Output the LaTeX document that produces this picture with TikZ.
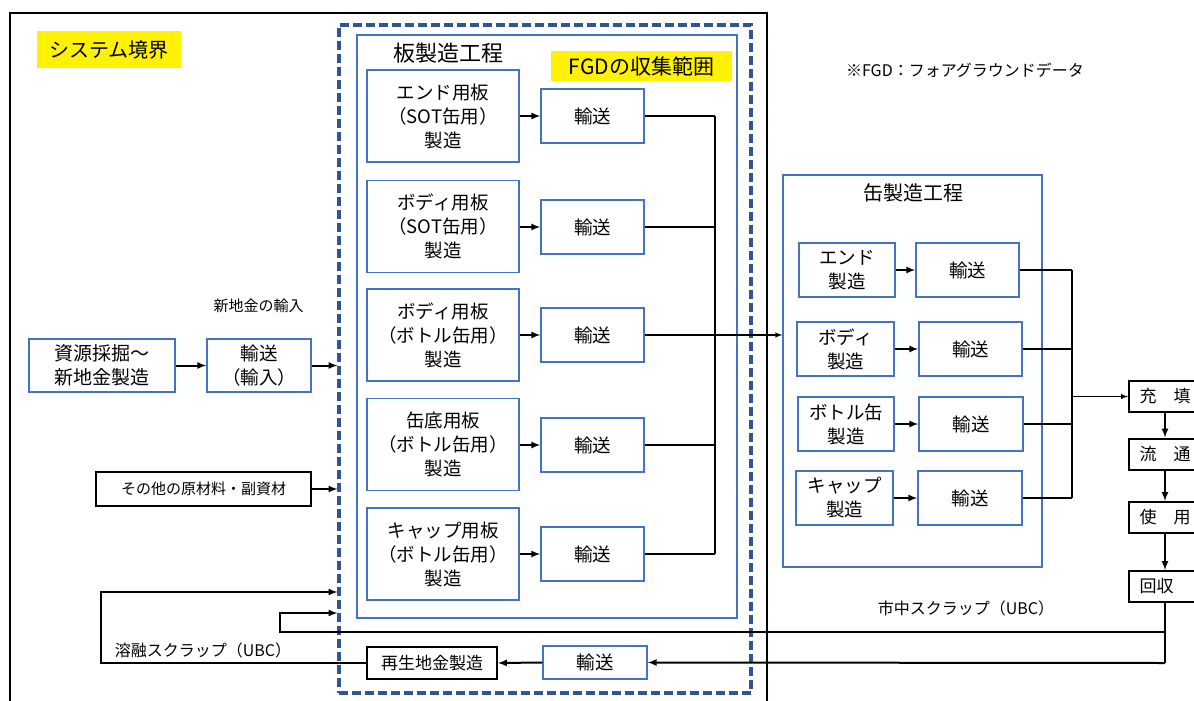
\documentclass[tikz,border=0pt]{standalone}
\usepackage{fontspec}
\setmainfont{Noto Sans CJK JP}
\usepackage{tikz}
\usetikzlibrary{arrows}
\definecolor{blu}{HTML}{4472C4}
\definecolor{dblu}{HTML}{2F5597}

\begin{document}
\begin{tikzpicture}[x=1pt,y=-1pt,>=latex,
    blbox/.style={draw=blu,line width=1.5pt,align=center,inner sep=0pt,
      font=\fontsize{18.5}{24}\selectfont},
    bkbox/.style={draw,line width=2pt,inner sep=0pt},
    hilite/.style={fill=yellow,inner sep=0pt},
    flow/.style={line width=2pt,->},
    wire/.style={line width=1.4pt}]
    \useasboundingbox (0,0) rectangle (1194,701);
    % system boundary
    \draw[line width=2.6pt] (10,720) -- (10,13) -- (767,13) -- (767,720);
    \node[hilite,minimum width=144,minimum height=37,font=\fontsize{20}{24}\selectfont] (sys) at (109,49.5) {システム境界};
    \node[draw=dblu,line width=3.2pt,dash pattern=on 9pt off 4pt,minimum width=412,minimum height=668] (fgd) at (545,359) {};
    \node at (965,70) [font=\fontsize{16}{20}\selectfont] {※FGD：フォアグラウンドデータ};

    % plate making
    \node[draw=blu,line width=1.5pt,minimum width=380,minimum height=583] (ban) at (547,326.5) {};
    \node at (448,53) [font=\fontsize{22}{26}\selectfont] {板製造工程};
    \node[hilite,minimum width=181,minimum height=30,font=\fontsize{21}{24}\selectfont] (rng) at (641.5,66) {FGDの収集範囲};
    \node[blbox,minimum width=152,minimum height=92] (p1) at (443,116) {エンド用板\\（SOT缶用）\\製造};
    \node[blbox,minimum width=152,minimum height=92] (p2) at (443,226.5) {ボディ用板\\（SOT缶用）\\製造};
    \node[blbox,minimum width=152,minimum height=92] (p3) at (443,335) {ボディ用板\\（ボトル缶用）\\製造};
    \node[blbox,minimum width=152,minimum height=92] (p4) at (443,444.5) {缶底用板\\（ボトル缶用）\\製造};
    \node[blbox,minimum width=152,minimum height=92] (p5) at (443,554) {キャップ用板\\（ボトル缶用）\\製造};
    \node[blbox,minimum width=103,minimum height=54] (pt1) at (592.5,116) {輸送};
    \node[blbox,minimum width=103,minimum height=54] (pt2) at (592.5,227) {輸送};
    \node[blbox,minimum width=103,minimum height=54] (pt3) at (592.5,335) {輸送};
    \node[blbox,minimum width=103,minimum height=54] (pt4) at (592.5,445) {輸送};
    \node[blbox,minimum width=103,minimum height=54] (pt5) at (592.5,554) {輸送};
    \foreach \i in {1,...,5}
      \draw[flow] (p\i.east |- pt\i.west) -- (pt\i.west);
    \coordinate (pj) at (715,0);
    \foreach \i in {1,...,5}
      \draw[wire] (pt\i.east) -- (pt\i.east -| pj);
    \draw[wire] (pt1.east -| pj) -- (pt5.east -| pj);

    % can making
    \node[draw=blu,line width=1.5pt,minimum width=259,minimum height=392] (can) at (912.5,371) {};
    \node at (913,193) [font=\fontsize{20}{24}\selectfont] {缶製造工程};
    \draw[wire,->] (pt3.east) -- (pt3.east -| can.west);
    \node[blbox,minimum width=96,minimum height=54] (c1) at (847,270) {エンド\\製造};
    \node[blbox,minimum width=97,minimum height=54] (c2) at (845.5,349) {ボディ\\製造};
    \node[blbox,minimum width=96,minimum height=54] (c3) at (846,424) {ボトル缶\\製造};
    \node[blbox,minimum width=97,minimum height=54] (c4) at (844.5,498) {キャップ\\製造};
    \node[blbox,minimum width=103,minimum height=54] (ct1) at (967.5,270) {輸送};
    \node[blbox,minimum width=103,minimum height=54] (ct2) at (970.5,349) {輸送};
    \node[blbox,minimum width=104,minimum height=54] (ct3) at (971,424) {輸送};
    \node[blbox,minimum width=104,minimum height=54] (ct4) at (970,498) {輸送};
    \foreach \i in {1,...,4}
      \draw[flow] (c\i.east) -- (ct\i.west);
    \coordinate (cj) at (1072,0);
    \foreach \i in {1,...,4}
      \draw[wire] (ct\i.east) -- (ct\i.east -| cj);
    \draw[line width=2.2pt] (ct1.east -| cj) -- (ct4.east -| cj);

    % use phase
    \node[bkbox,minimum width=72,minimum height=31,font=\fontsize{17}{20}\selectfont] (fill) at (1165,396.5) {充　填};
    \node[bkbox,minimum width=72,minimum height=31,font=\fontsize{17}{20}\selectfont] (dist) at (1165,454) {流　通};
    \node[bkbox,minimum width=72,minimum height=31,font=\fontsize{17}{20}\selectfont] (use) at (1165,517.5) {使　用};
    \node[bkbox,minimum width=72,minimum height=31,font=\fontsize{17}{20}\selectfont] (coll) at (1165,586.5) {回収\phantom{用}};
    \draw[wire,->] (fill.west -| cj) -- (fill.west);
    \draw[flow] (fill) -- (dist);
    \draw[flow] (dist) -- (use);
    \draw[flow] (use) -- (coll);

    % scrap return
    \coordinate (k1) at (1165,632);
    \coordinate (k2) at (1165,663);
    \coordinate (m1) at (280,613);
    \coordinate (m2) at (101,592);
    \node[blbox,minimum width=104,minimum height=33] (rt) at (595,662.5) {輸送};
    \node[bkbox,minimum width=130,minimum height=32,font=\fontsize{17}{20}\selectfont] (rec) at (432,663) {再生地金製造};
    \draw[line width=2.2pt] (coll.south) -- (k2);
    \draw[flow] (k1) -| (m1) -- (m1 -| fgd.west);
    \draw[flow] (k2) -- (rt.east);
    \draw[flow] (rt.west) -- (rec.east);
    \draw[flow] (rec.west) -| (m2) -- (m2 -| fgd.west);
    \node at (966,608) [font=\fontsize{16}{20}\selectfont] {市中スクラップ（UBC）};
    \node at (203,650) [font=\fontsize{16}{20}\selectfont] {溶融スクラップ（UBC）};

    % primary metal and other inputs
    \node[blbox,minimum width=146,minimum height=53,font=\fontsize{19}{24}\selectfont] (src) at (102,365.5) {資源採掘～\\新地金製造};
    \node[blbox,minimum width=104,minimum height=53] (imp) at (259,365.5) {輸送\\（輸入）};
    \node at (258.5,306) [font=\fontsize{15}{18}\selectfont] {新地金の輸入};
    \draw[flow] (src) -- (imp);
    \draw[flow] (imp.east) -- (imp.east -| fgd.west);
    \node[bkbox,minimum width=215,minimum height=34,font=\fontsize{15}{18}\selectfont] (oth) at (203.5,489) {その他の原材料・副資材};
    \draw[flow] (oth.east) -- (oth.east -| fgd.west);
\end{tikzpicture}
\end{document}
